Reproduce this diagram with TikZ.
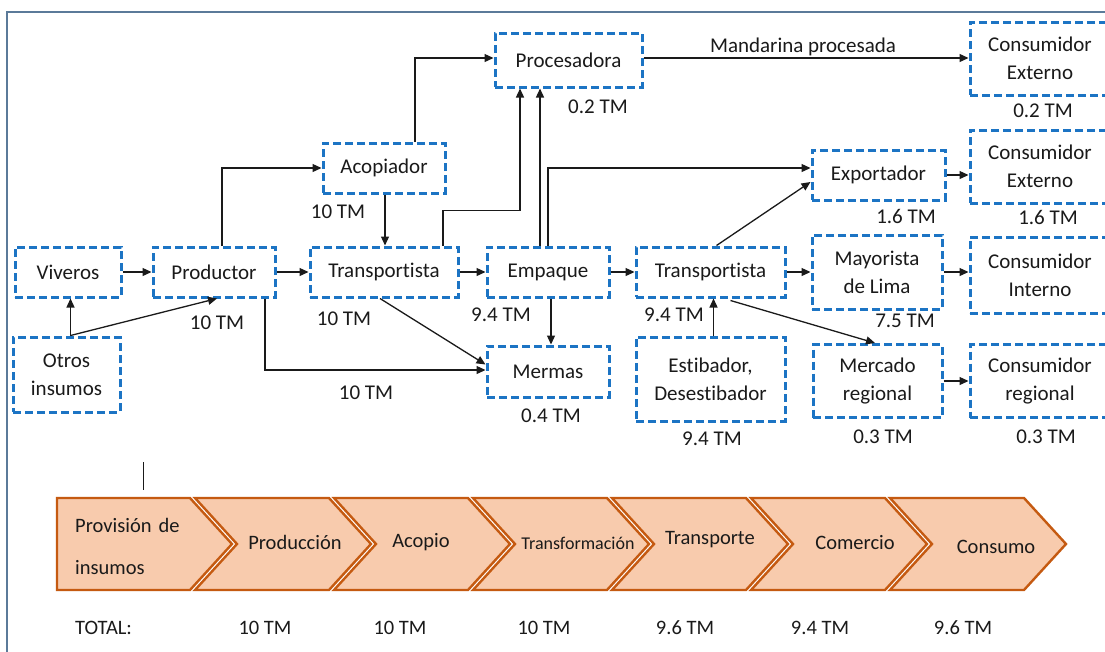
\documentclass[tikz,border=0pt]{standalone}
\usepackage{fontspec}
\setmainfont{Carlito}[Ligatures={NoCommon,NoContextual}]
\usetikzlibrary{arrows.meta,calc}
\definecolor{boxblue}{HTML}{1C74C4}
\definecolor{framecol}{HTML}{5B7A99}
\definecolor{chevfill}{HTML}{F8CBAD}
\definecolor{chevline}{HTML}{C55A11}
\definecolor{txt}{HTML}{1A1A1A}
\newcommand\myfs{\fontsize{21}{28}\selectfont}
\newcommand\mysmall{\fontsize{18}{21}\selectfont}
\newcommand\mychev{\fontsize{20.5}{24}\selectfont}
\tikzset{
  box/.style={draw=boxblue, line width=3pt, dash pattern=on 8pt off 4pt, rectangle,
    inner sep=0pt, align=center, font=\myfs, text=txt},
  lbl/.style={inner sep=0pt, font=\myfs, text=txt},
  arr/.style={-{Triangle[length=9pt,width=8pt]}, line width=1.3pt, draw=txt},
  chev/.style={fill=chevfill, draw=chevline, line width=2.4pt, line join=miter},
  frameline/.style={draw=framecol, line width=1.5pt},
  chevtxt/.style={inner sep=0pt, font=\mychev, text=txt}
}
\begin{document}
\begin{tikzpicture}[x=1pt,y=-1pt]
\useasboundingbox (0,0) rectangle (1105,651);
\clip (0,0) rectangle (1105,651);
\fill[white] (0,0) rectangle (1105,651);
\draw[frameline] (7,660) -- (7,12) -- (1110,12);

% boxes
\node[box, minimum width=147, minimum height=54] (proc) at (568.5,60) {Procesadora};
\node[box, minimum width=140, minimum height=73] (ce1) at (1040,58.5) {Consumidor\\Externo};
\node[box, minimum width=122, minimum height=50] (acop) at (384,168) {Acopiador};
\node[box, minimum width=133, minimum height=50] (expo) at (878.5,175) {Exportador};
\node[box, minimum width=140, minimum height=73] (ce2) at (1040,166.5) {Consumidor\\Externo};
\node[box, minimum width=106, minimum height=50] (viv) at (68,272) {Viveros};
\node[box, minimum width=122, minimum height=50] (prod) at (214,272) {Productor};
\node[box, minimum width=148, minimum height=50] (trans1) at (384,272) {Transportista};
\node[box, minimum width=122, minimum height=50] (emp) at (548,272) {Empaque};
\node[box, minimum width=149, minimum height=50] (trans2) at (710.5,272) {Transportista};
\node[box, minimum width=130, minimum height=74] (may) at (877,272) {Mayorista\\de Lima};
\node[box, minimum width=140, minimum height=76] (ci) at (1040,275) {Consumidor\\Interno};
\node[box, minimum width=107, minimum height=75] (otros) at (66.5,374.5) {Otros\\insumos};
\node[box, minimum width=122, minimum height=51] (merm) at (548,371.5) {Mermas};
\node[box, minimum width=149, minimum height=84] (esti) at (710.5,379) {Estibador,\\Desestibador};
\node[box, minimum width=129, minimum height=73] (merc) at (877.5,381) {Mercado\\regional};
\node[box, minimum width=140, minimum height=73] (cr) at (1040,381) {Consumidor\\regional};

% connectors
\draw[arr] (viv) -- (prod);
\coordinate (oi) at ($(otros.north)+(4,0)$);
\draw[arr] (oi) -- (oi |- viv.south);
\draw[arr] (oi) -- ($(prod.south)+(3,0)$);
\draw[arr] (prod) -- (trans1);
\draw[arr] ($(prod.north)+(8,0)$) |- (acop.west);
\draw[arr] ($(acop.south)+(1,0)$) -- ($(trans1.north)+(1,0)$);
\coordinate (pw) at ($(proc.west)+(0,-2)$);
\draw[arr] ($(acop.north)+(31,0)$) |- (pw);
\draw[arr] ($(trans1.north)+(59,0)$) -- ++(0,-35) -| ($(proc.south)+(-48.5,0)$);
\draw[arr] ($(emp.north)+(-8,0)$) -- ($(proc.south)+(-28.5,0)$);
\draw[arr] (emp.north) |- ($(expo.west)+(0,-7)$);
\draw[arr] (trans1) -- (emp);
\draw[arr] ($(trans1.south)+(-4,0)$) -- ($(merm.west)+(0,-7)$);
\draw[arr] ($(prod.south)+(51,0)$) |- ($(merm.west)+(0,-1.5)$);
\draw[arr] ($(emp.south)+(3,0)$) -- ($(merm.north)+(3,0)$);
\draw[arr] (emp) -- (trans2);
\draw[arr] ($(trans2.north)+(6,0)$) -- ($(expo.west)+(0,7)$);
\draw[arr] (trans2) -- (trans2 -| may.west);
\draw[arr] ($(trans2.south)+(20,2)$) -- ($(merc.north)+(-2.5,0)$);
\draw[arr] ($(esti.north)+(3,0)$) -- ($(trans2.south)+(3,0)$);
\coordinate (pe) at ($(proc.east)+(0,-2)$);
\draw[arr] (pe) -- (pe -| ce1.west);
\draw[arr] (expo.east) -- (expo.east -| ce2.west);
\draw[arr] (may.east) -- (may.east -| ci.west);
\draw[arr] (merc.east) -- (merc.east -| cr.west);

% labels
\node[lbl] (lmp) at (803,47) {Mandarina procesada};
\node[lbl] (l1) at (598,107) {0.2 TM};
\node[lbl] (l2) at (1043,111) {0.2 TM};
\node[lbl] (l3) at (338,212) {10 TM};
\node[lbl] (l4) at (906,216) {1.6 TM};
\node[lbl] (l5) at (1048,217) {1.6 TM};
\node[lbl] (l6) at (217,323) {10 TM};
\node[lbl] (l7) at (344,319) {10 TM};
\node[lbl] (l8) at (501,315) {9.4 TM};
\node[lbl] (l9) at (674,315) {9.4 TM};
\node[lbl] (l10) at (905,321) {7.5 TM};
\node[lbl] (l11) at (366,393) {10 TM};
\node[lbl] (l12) at (551,416) {0.4 TM};
\node[lbl] (l13) at (712,439) {9.4 TM};
\node[lbl] (l14) at (883,437) {0.3 TM};
\node[lbl] (l15) at (1046,437) {0.3 TM};

% marker line
\coordinate (mk1) at (143,462);
\coordinate (mk2) at (143,490);
\draw[line width=1pt, draw=txt] (mk1) -- (mk2);

% chevrons
\draw[chev] (57,498) -- (190,498) -- (232,544) -- (190,590) -- (57,590) -- cycle;
\draw[chev] (195,498) -- (329,498) -- (371,544) -- (329,590) -- (195,590) -- (237,544) -- cycle;
\draw[chev] (334,498) -- (468,498) -- (510,544) -- (468,590) -- (334,590) -- (376,544) -- cycle;
\draw[chev] (473,498) -- (607,498) -- (649,544) -- (607,590) -- (473,590) -- (515,544) -- cycle;
\draw[chev] (612,498) -- (746,498) -- (788,544) -- (746,590) -- (612,590) -- (654,544) -- cycle;
\draw[chev] (751,498) -- (885,498) -- (927,544) -- (885,590) -- (751,590) -- (793,544) -- cycle;
\draw[chev] (890,498) -- (1024,498) -- (1066,544) -- (1024,590) -- (890,590) -- (932,544) -- cycle;

\node[chevtxt, anchor=west] (c1a) at (75,525) {Provisión\hspace{7pt}de};
\node[chevtxt, anchor=west] (c1b) at (75,568) {insumos};
\node[chevtxt] (c2) at (295,542) {Producción};
\node[chevtxt] (c3) at (421,542) {Acopio};
\node[inner sep=0pt, font=\mysmall, text=txt] (c4) at (578,543) {Transformación};
\node[chevtxt] (c5) at (710,540) {Transporte};
\node[chevtxt] (c6) at (855,543) {Comercio};
\node[chevtxt] (c7) at (996,547) {Consumo};

% totals
\node[chevtxt, anchor=west] (t0) at (75,628) {TOTAL:};
\node[chevtxt] (t1) at (265,628) {10 TM};
\node[chevtxt] (t2) at (400,628) {10 TM};
\node[chevtxt] (t3) at (544,628) {10 TM};
\node[chevtxt] (t4) at (685,628) {9.6 TM};
\node[chevtxt] (t5) at (820,628) {9.4 TM};
\node[chevtxt] (t6) at (963,628) {9.6 TM};
\end{tikzpicture}
\end{document}
